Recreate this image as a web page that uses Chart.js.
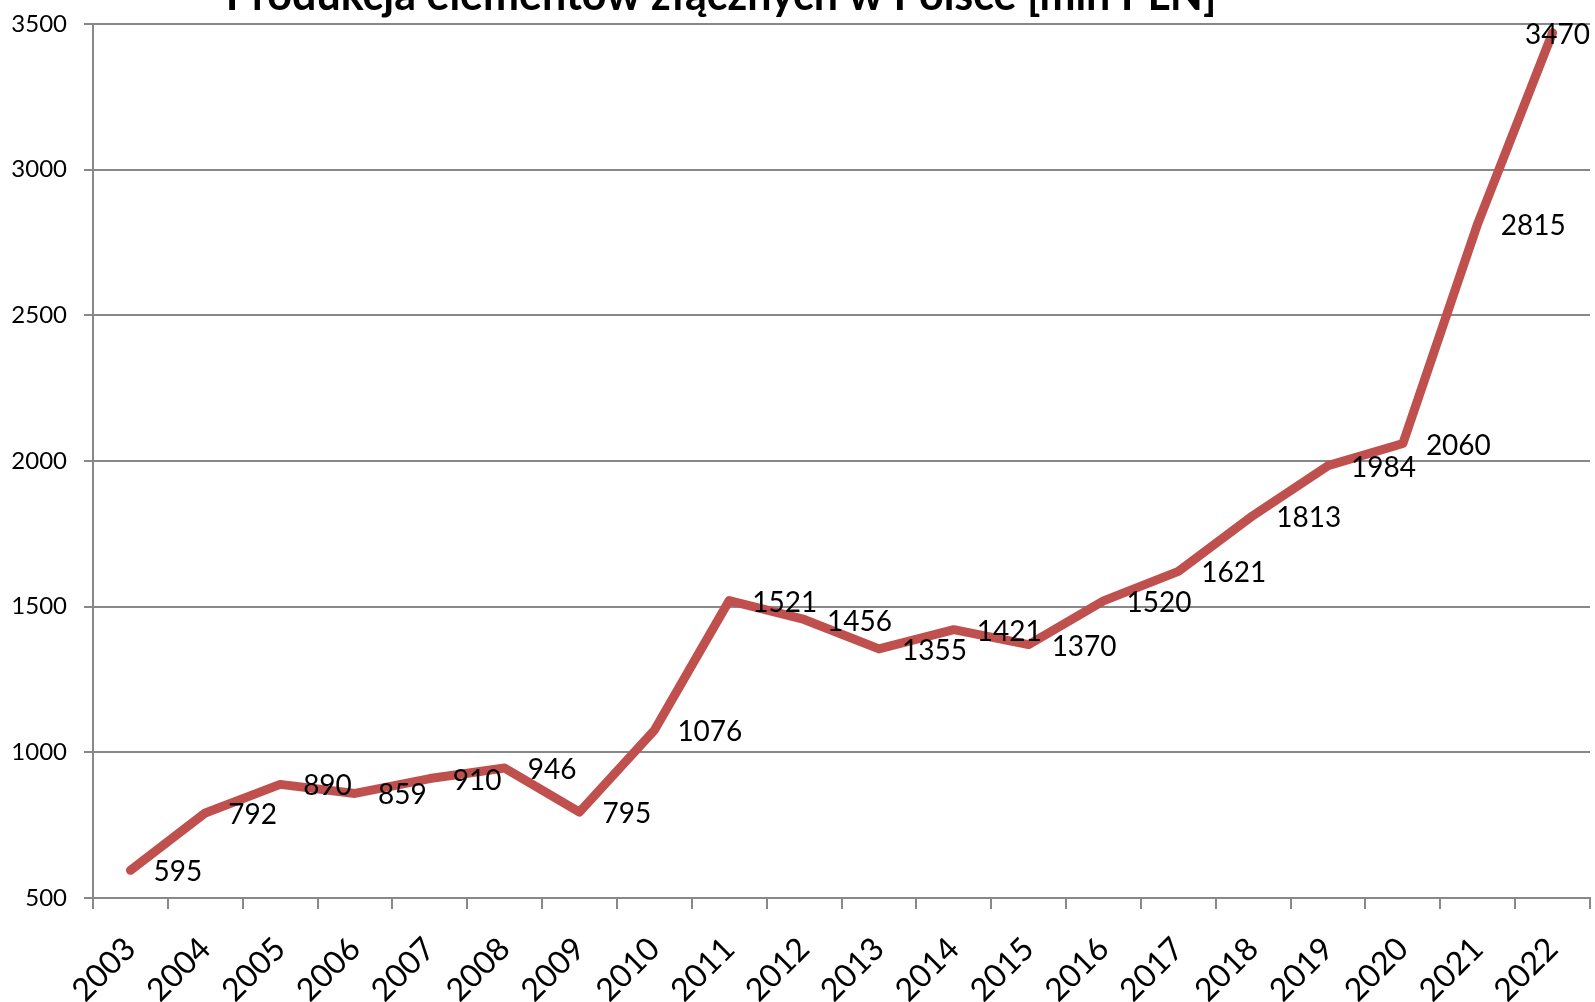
<!DOCTYPE html>
<html>
<head>
<meta charset="utf-8">
<script src="https://cdn.jsdelivr.net/npm/chart.js@4/dist/chart.umd.min.js"></script>
<style>
  html, body { margin: 0; padding: 0; background: #fff; overflow: hidden; }
  #wrap { width: 1595px; height: 1002px; }
</style>
</head>
<body>
<div id="wrap"><canvas id="chart" width="1595" height="1002"></canvas></div>
<script>
// data
const years = ['2003', '2004', '2005', '2006', '2007', '2008', '2009', '2010', '2011', '2012',
               '2013', '2014', '2015', '2016', '2017', '2018', '2019', '2020', '2021', '2022'];
const production = [595, 792, 890, 859, 910, 946, 795, 1076, 1521, 1456,
                    1355, 1421, 1370, 1520, 1621, 1813, 1984, 2060, 2815, 3470];
const yTicks = [500, 1000, 1500, 2000, 2500, 3000, 3500];
const titleText = 'Produkcja elementów złącznych w Polsce [mln PLN]';

const FONT = 'Lato, "Open Sans", sans-serif';
const GRID = '#888888';
const LINE = '#C0504D';

// title sits mostly above the canvas top, as in the source image
const titlePlugin = {
    id: 'cutTitle',
    afterDraw(chart) {
        const ctx = chart.ctx;
        ctx.save();
        ctx.font = 'bold 43px ' + FONT;
        ctx.fillStyle = '#000';
        ctx.textAlign = 'center';
        ctx.textBaseline = 'alphabetic';
        ctx.fillText(titleText, 721, 10);
        ctx.restore();
    }
};

// value labels to the right of each point
const valueLabels = {
    id: 'valueLabels',
    afterDatasetsDraw(chart) {
        const ctx = chart.ctx;
        const meta = chart.getDatasetMeta(0);
        ctx.save();
        ctx.font = '28px ' + FONT;
        ctx.fillStyle = '#000';
        ctx.textAlign = 'left';
        ctx.textBaseline = 'middle';
        meta.data.forEach((pt, i) => {
            const txt = String(production[i]);
            const w = ctx.measureText(txt).width;
            let x = pt.x + 23;
            if (x + w > chart.width - 5) x = chart.width - 5 - w;
            ctx.fillText(txt, x, pt.y + 2);
        });
        ctx.restore();
    }
};

new Chart(document.getElementById('chart'), {
    type: 'line',
    data: {
        labels: years,
        datasets: [{
            data: production,
            borderColor: LINE,
            borderWidth: 9,
            borderCapStyle: 'round',
            borderJoinStyle: 'round',
            pointRadius: 0,
            tension: 0,
            fill: false
        }]
    },
    options: {
        responsive: false,
        animation: false,
        layout: { padding: { top: 24, right: 5, left: 0, bottom: 0 } },
        plugins: {
            legend: { display: false },
            title: { display: false },
            tooltip: { enabled: false }
        },
        scales: {
            x: {
                offset: true,
                afterFit(scale) {
                    scale.height = 104;
                    scale.paddingLeft = 0;
                    scale.paddingRight = 0;
                },
                grid: {
                    offset: true,
                    drawOnChartArea: false,
                    drawTicks: true,
                    tickLength: 11,
                    color: GRID,
                    lineWidth: 2
                },
                border: { color: GRID, width: 2 },
                ticks: {
                    autoSkip: false,
                    minRotation: 45,
                    maxRotation: 45,
                    padding: 21,
                    color: '#000',
                    font: { family: FONT, size: 32 }
                }
            },
            y: {
                min: 500,
                max: 3500,
                afterFit(scale) {
                    scale.width = 93;
                    scale.paddingTop = 0;
                    scale.paddingBottom = 0;
                },
                afterBuildTicks(scale) { scale.ticks = yTicks.map(v => ({ value: v })); },
                grid: {
                    color: GRID,
                    lineWidth: 2,
                    drawTicks: true,
                    tickLength: 9
                },
                border: { color: GRID, width: 2 },
                ticks: {
                    padding: 17,
                    color: '#000',
                    font: { family: FONT, size: 24 },
                    callback: v => String(v)
                }
            }
        }
    },
    plugins: [titlePlugin, valueLabels]
});
</script>
</body>
</html>
